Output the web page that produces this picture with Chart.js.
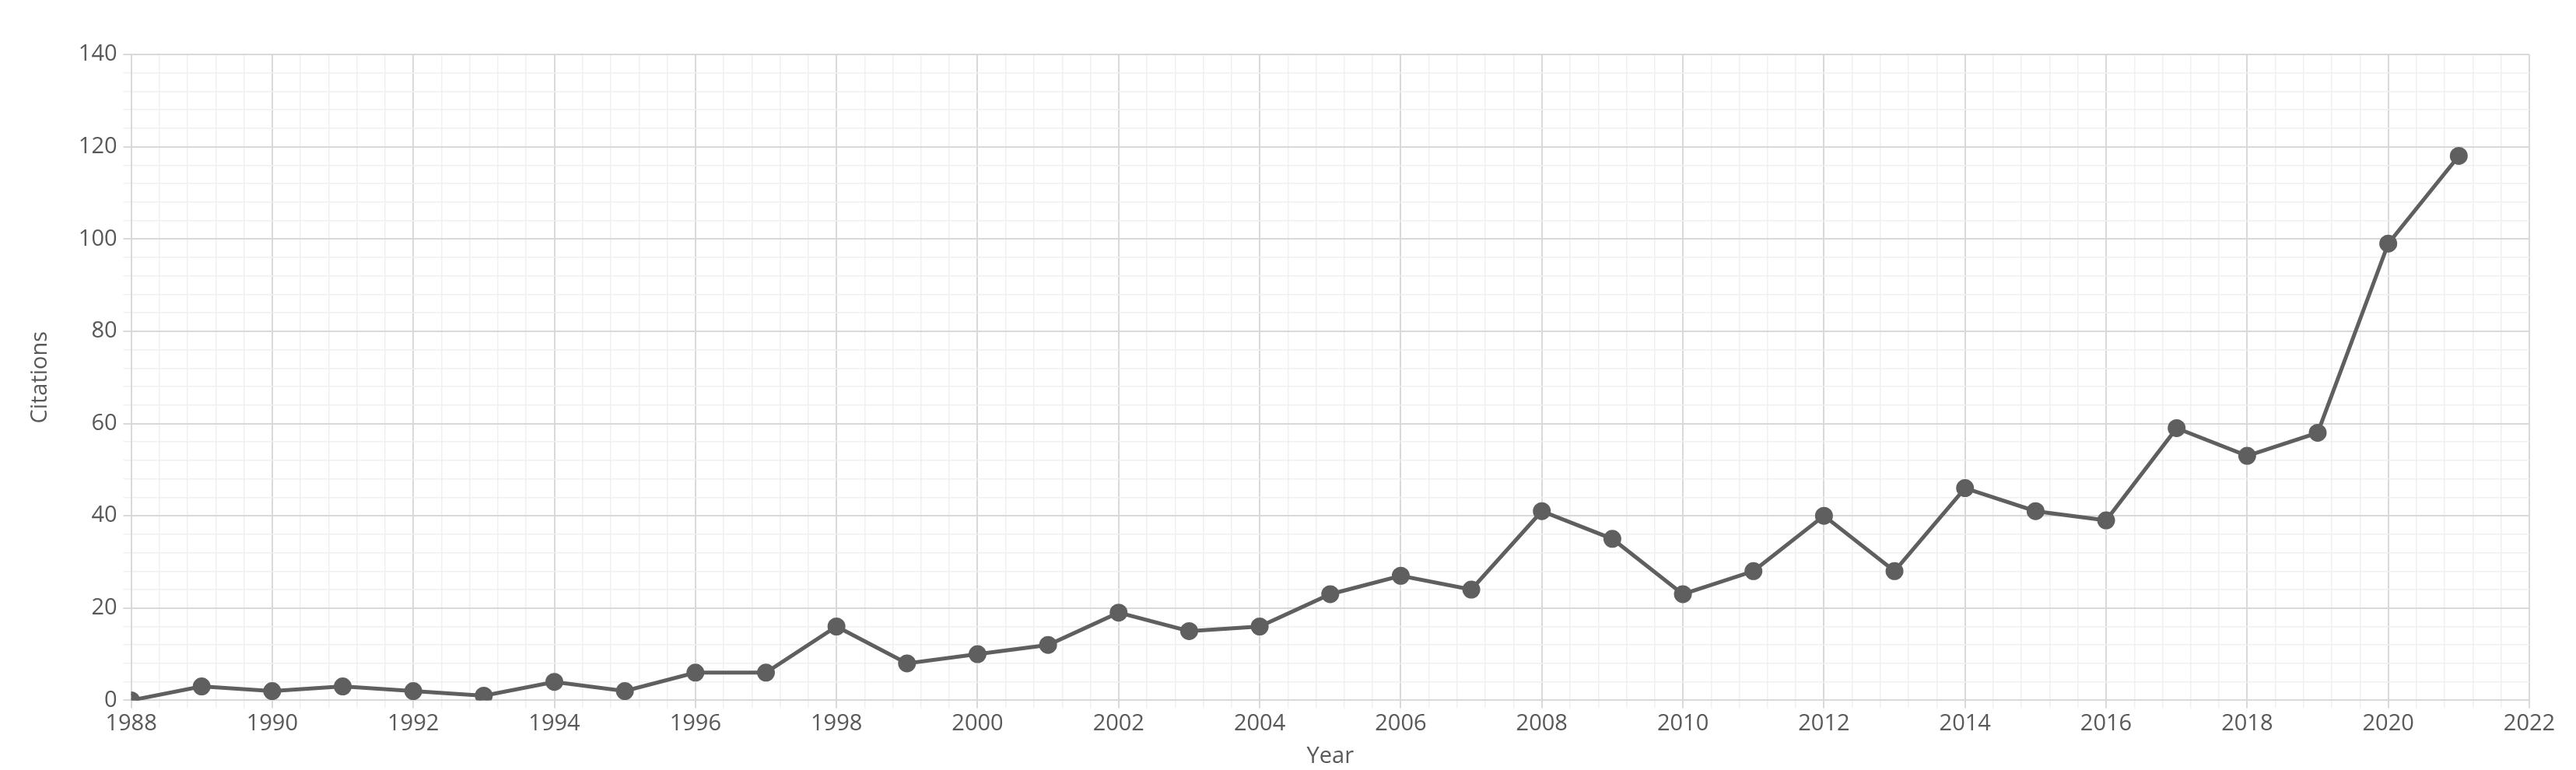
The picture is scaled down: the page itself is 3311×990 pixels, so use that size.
<!DOCTYPE html>
<html lang="en">
<head>
<meta charset="UTF-8" />
<title>Citations per year</title>
<script src="https://cdn.jsdelivr.net/npm/chart.js"></script>
<style>
  html, body { margin: 0; padding: 0; background: #fff; }
  #wrap { width: 3311px; height: 990px; }
</style>
</head>
<body>
<div id="wrap"><canvas id="chart"></canvas></div>
<script>
    const years = [1988, 1989, 1990, 1991, 1992, 1993, 1994, 1995, 1996, 1997, 1998, 1999, 2000, 2001, 2002, 2003, 2004,
        2005, 2006, 2007, 2008, 2009, 2010, 2011, 2012, 2013, 2014, 2015, 2016, 2017, 2018, 2019, 2020, 2021];
    const citations = [0, 3, 2, 3, 2, 1, 4, 2, 6, 6, 16, 8, 10, 12, 19, 15, 16,
        23, 27, 24, 41, 35, 23, 28, 40, 28, 46, 41, 39, 59, 53, 58, 99, 118];

    const isMajorX = v => { const r = Math.round(v); return Math.abs(v - r) < 1e-6 && r % 2 === 0; };
    const isMajorY = v => Math.abs(v % 20) < 1e-6;
    const textColor = '#595959';
    const font = { family: 'Open Sans', size: 29 };

    new Chart(document.getElementById('chart'), {
        type: 'line',
        data: {
            datasets: [{
                label: 'Citations',
                data: years.map((y, i) => ({ x: y, y: citations[i] })),
                borderColor: '#5f5f5f',
                backgroundColor: '#5f5f5f',
                borderWidth: 5,
                pointRadius: 9,
                tension: 0
            }]
        },
        options: {
            responsive: true,
            maintainAspectRatio: false,
            animation: false,
            layout: { padding: { left: 30, right: 60, top: 70, bottom: 0 } },
            plugins: { legend: { display: false }, tooltip: { enabled: false } },
            scales: {
                x: {
                    type: 'linear', min: 1988, max: 2022,
                    ticks: {
                        stepSize: 0.4, autoSkip: false, maxRotation: 0, color: textColor, font: font,
                        callback: v => isMajorX(v) ? String(Math.round(v)) : ''
                    },
                    grid: {
                        color: c => isMajorX(c.tick.value) ? '#d9d9d9' : '#f0f0f0',
                        lineWidth: c => isMajorX(c.tick.value) ? 2 : 1.5,
                        tickLength: 10
                    },
                    border: { color: '#d9d9d9', width: 2 },
                    title: { display: true, text: 'Year', color: textColor, font: font, padding: { top: 4, bottom: 0 } }
                },
                y: {
                    min: 0, max: 140,
                    ticks: {
                        stepSize: 4, autoSkip: false, color: textColor, font: font, padding: 8,
                        callback: v => isMajorY(v) ? String(v) : ''
                    },
                    grid: {
                        color: c => isMajorY(c.tick.value) ? '#d9d9d9' : '#f0f0f0',
                        lineWidth: c => isMajorY(c.tick.value) ? 2 : 1.5,
                        tickLength: 10
                    },
                    border: { color: '#d9d9d9', width: 2 },
                    title: { display: true, text: 'Citations', color: textColor, font: font, padding: { bottom: 24 } }
                }
            }
        }
    });
</script>
</body>
</html>
